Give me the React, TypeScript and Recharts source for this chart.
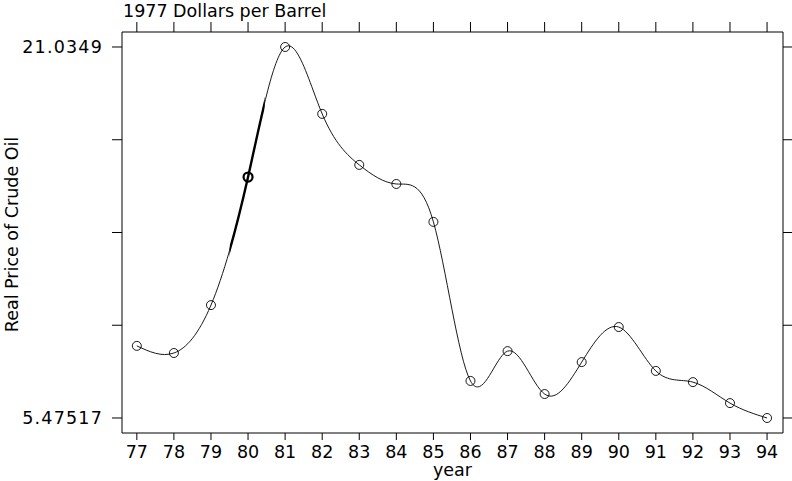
import React from 'react';
import {
  LineChart,
  Line,
  XAxis,
  YAxis,
  ReferenceArea,
} from 'recharts';

// real crude oil price, 1977 dollars per barrel
const years = [77, 78, 79, 80, 81, 82, 83, 84, 85, 86, 87, 88, 89, 90, 91, 92, 93, 94];
const prices = [8.5, 8.2, 10.21, 15.58, 21.0349, 18.23, 16.09, 15.29, 13.7, 7.03, 8.28, 6.48, 7.82, 9.29, 7.45, 6.98, 6.1, 5.47517];

const yTicks = [5.47517, 9.3651, 13.25504, 17.14497, 21.0349];
const yTickLabels = ['5.47517', '', '', '', '21.0349'];
const highlightYear = 80;
const highlightRange = [79.5, 80.45];

const FONT = '"DejaVu Sans", "Liberation Sans", Arial, sans-serif';
const FS = 17.5;

const data = years.map((year, i) => ({ year, price: prices[i] }));

const xDomain = [76.6, 94.43];
const yDomain = [4.846, 21.664];

const TitleLabel = (props: any) => {
  const vb = props.viewBox || { x: 122, y: 22 };
  return (
    <text x={vb.x + 1} y={vb.y - 5} fontSize={FS} fontFamily={FONT} fill="#000">
      1977 Dollars per Barrel
    </text>
  );
};

const YTitle = (props: any) => {
  const vb = props.viewBox || { x: 0, y: 32, width: 122, height: 401 };
  const cx = vb.x + 18;
  const cy = vb.y + vb.height / 2 + 2;
  return (
    <text
      x={cx}
      y={cy}
      textAnchor="middle"
      transform={`rotate(-90 ${cx} ${cy})`}
      fontSize={FS}
      fontFamily={FONT}
      fill="#000"
    >
      Real Price of Crude Oil
    </text>
  );
};

const ClipShape = (props: any) => (
  <defs>
    <clipPath id="seg80">
      <rect x={props.x} y={props.y} width={props.width} height={props.height} />
    </clipPath>
  </defs>
);

const OpenDot = (props: any) => {
  const { cx, cy, payload } = props;
  const bold = payload && payload.year === highlightYear;
  return (
    <circle
      key={`d-${payload?.year}`}
      cx={cx}
      cy={cy}
      r={4.5}
      fill="none"
      stroke="#000"
      strokeWidth={bold ? 2.2 : 0.9}
    />
  );
};

const tickStyle = { fontSize: FS, fontFamily: FONT, fill: '#000' };

export default function App() {
  return (
    <div style={{ width: 792, height: 481, background: '#fff' }}>
      <style>{`
        body { margin: 0; }
        .seg80 .recharts-line-curve { clip-path: url(#seg80); }
      `}</style>
      <LineChart
        width={792}
        height={481}
        data={data}
        margin={{ top: 22, right: 0, bottom: 0, left: 0 }}
      >
        <XAxis
          xAxisId="b"
          dataKey="year"
          type="number"
          domain={xDomain}
          allowDataOverflow
          ticks={years}
          interval={0}
          height={48}
          tickSize={7}
          tickMargin={6}
          stroke="#000"
          tick={tickStyle}
          label={{ value: 'year', position: 'insideBottom', offset: 5, fontSize: FS, fontFamily: FONT, fill: '#000' }}
        />
        <XAxis
          xAxisId="t"
          orientation="top"
          dataKey="year"
          type="number"
          domain={xDomain}
          allowDataOverflow
          ticks={years}
          interval={0}
          height={10}
          tickSize={10}
          tickMargin={0}
          tickFormatter={() => ''}
          stroke="#000"
          label={TitleLabel}
        />
        <YAxis
          yAxisId="l"
          type="number"
          domain={yDomain}
          allowDataOverflow
          ticks={yTicks}
          interval={0}
          width={122}
          tickSize={10}
          tickMargin={9}
          stroke="#000"
          tick={{ ...tickStyle, letterSpacing: 1.2 }}
          tickFormatter={(v: number) => yTickLabels[yTicks.indexOf(v)] || ''}
          label={YTitle}
        />
        <YAxis
          yAxisId="r"
          orientation="right"
          type="number"
          domain={yDomain}
          allowDataOverflow
          ticks={yTicks}
          interval={0}
          width={9}
          tickSize={9}
          tickMargin={0}
          tickFormatter={() => ''}
          stroke="#000"
        />
        <ReferenceArea
          xAxisId="b"
          yAxisId="l"
          x1={highlightRange[0]}
          x2={highlightRange[1]}
          shape={ClipShape}
        />
        <Line
          xAxisId="b"
          yAxisId="l"
          type="natural"
          dataKey="price"
          stroke="#000"
          strokeWidth={0.9}
          dot={OpenDot}
          activeDot={false}
          isAnimationActive={false}
        />
        <Line
          xAxisId="b"
          yAxisId="l"
          className="seg80"
          type="natural"
          dataKey="price"
          stroke="#000"
          strokeWidth={2.4}
          dot={false}
          activeDot={false}
          legendType="none"
          isAnimationActive={false}
        />
      </LineChart>
    </div>
  );
}
